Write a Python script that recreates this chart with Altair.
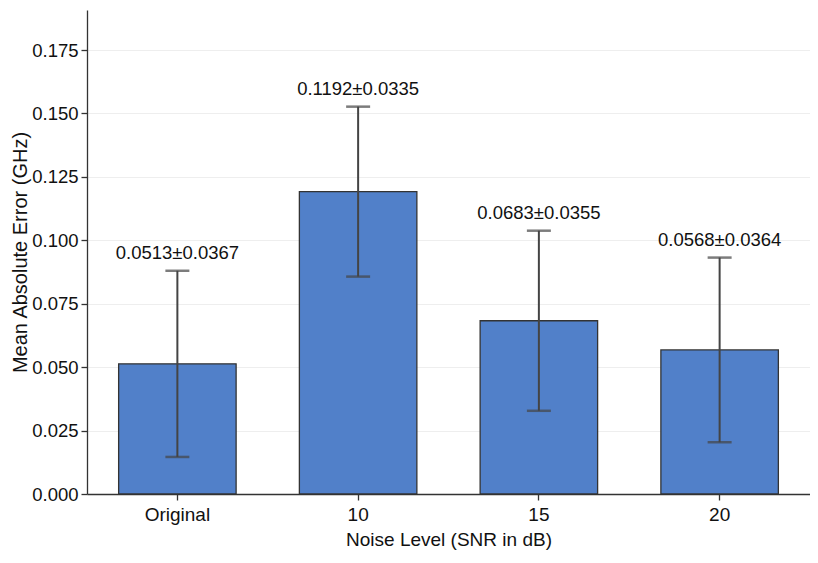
import altair as alt
import pandas as pd

categories = ["Original", "10", "15", "20"]
means = [0.0513, 0.1192, 0.0683, 0.0568]
stds = [0.0367, 0.0335, 0.0355, 0.0364]
labels = ["0.0513±0.0367", "0.1192±0.0335", "0.0683±0.0355", "0.0568±0.0364"]

df = pd.DataFrame({
    "cat": categories,
    "mean": means,
    "std": stds,
    "label": labels,
})
df["lo"] = df["mean"] - df["std"]
df["hi"] = df["mean"] + df["std"]

FONT = "Liberation Sans"

x = alt.X("cat:N", sort=categories,
          scale=alt.Scale(paddingInner=0.35, paddingOuter=0.175),
          axis=alt.Axis(title="Noise Level (SNR in dB)", labelAngle=0,
                        labelFontSize=19, titleFontSize=19, labelColor="#111",
                        titleColor="#111", labelFont=FONT, titleFont=FONT,
                        domainColor="#333", domainWidth=1.3, tickColor="#333",
                        tickSize=6, tickWidth=1.3, labelPadding=5, titlePadding=6,
                        titleFontWeight="normal"))
yscale = alt.Scale(domain=[0, 0.1908], nice=False)
yaxis = alt.Axis(title="Mean Absolute Error (GHz)", values=[0, 0.025, 0.05, 0.075, 0.1, 0.125, 0.15, 0.175],
                 format=".3f", labelFontSize=18.5, titleFontSize=20, labelColor="#111",
                 titleColor="#111", labelFont=FONT, titleFont=FONT, domainColor="#333",
                 domainWidth=1.3, tickColor="#333", tickSize=6, tickWidth=1.3,
                 grid=True, gridColor="#eeeeee", gridWidth=1, labelPadding=3,
                 titlePadding=1, titleFontWeight="normal")

base = alt.Chart(df)

bars = base.mark_bar(color="#5180C9", stroke="#333333", strokeWidth=1.3).encode(
    x=x,
    y=alt.Y("mean:Q", scale=yscale, axis=yaxis),
)

rules = base.mark_rule(color="#444444", strokeWidth=2).encode(
    x=alt.X("cat:N", sort=categories),
    y="lo:Q",
    y2="hi:Q",
)

caps_hi = base.mark_tick(color="#444444", size=24, thickness=2.5).encode(
    x=alt.X("cat:N", sort=categories),
    y="hi:Q",
)
caps_lo = base.mark_tick(color="#444444", size=24, thickness=2.5).encode(
    x=alt.X("cat:N", sort=categories),
    y="lo:Q",
)

text = base.mark_text(baseline="bottom", dy=-8, fontSize=18.5, font=FONT, color="#111").encode(
    x=alt.X("cat:N", sort=categories),
    y="hi:Q",
    text="label:N",
)

chart = alt.layer(bars, rules, caps_hi, caps_lo, text).properties(
    width=723,
    height=484,
    autosize=alt.AutoSizeParams(type="none"),
    padding={"left": 79, "top": 2, "right": 0, "bottom": 61},
    background="white",
).configure_view(stroke=None)

chart.save("out.html", embed_options={"renderer": "svg", "actions": False})
